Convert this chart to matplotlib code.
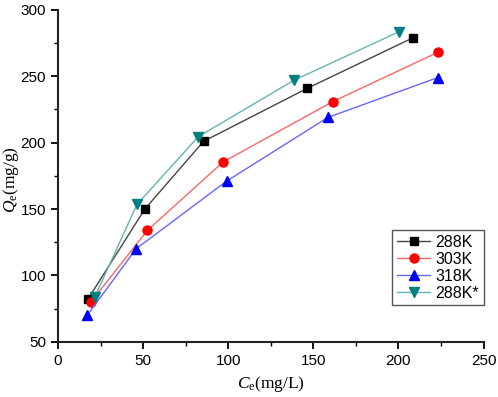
import matplotlib
matplotlib.use("Agg")
import matplotlib.pyplot as plt
from matplotlib.ticker import MultipleLocator

plt.rcParams["font.family"] = ["Liberation Sans", "DejaVu Sans"]
plt.rcParams["mathtext.fontset"] = "custom"
plt.rcParams["mathtext.rm"] = "Liberation Serif"
plt.rcParams["mathtext.it"] = "Liberation Serif:italic"

# equilibrium data
ce_288 = [17.5, 51, 85.5, 146.5, 208.5]
qe_288 = [82, 150, 201, 241, 279]
ce_303 = [19.3, 52.5, 97, 161.5, 223]
qe_303 = [80, 134, 185.5, 231, 268]
ce_318 = [17.2, 45.8, 99, 158.5, 223]
qe_318 = [70, 120, 171, 219, 249]
ce_288s = [21.5, 46.4, 82.4, 138.6, 200.2]
qe_288s = [83.5, 153.5, 204.5, 247, 283.5]

series = [
    ("288K", ce_288, qe_288, "s", "black", "#444444", 5.5),
    ("303K", ce_303, qe_303, "o", "red", "#ff6666", 6.5),
    ("318K", ce_318, qe_318, "^", "blue", "#6666ff", 6.5),
    ("288K*", ce_288s, qe_288s, "v", "#008080", "#66b3b3", 6.5),
]

fig = plt.figure(figsize=(4.98, 3.97), dpi=100)
ax = fig.add_axes([0.1165, 0.139, 0.8545, 0.836])

for name, x, y, mk, mc, lc, ms in series:
    ax.plot(x, y, color=lc, lw=1.0, marker=mk, ms=ms,
            markerfacecolor=mc, markeredgecolor=mc, label=name)

ax.set_xlim(0, 250)
ax.set_ylim(50, 300)
ax.xaxis.set_major_locator(MultipleLocator(50))
ax.xaxis.set_minor_locator(MultipleLocator(25))
ax.yaxis.set_major_locator(MultipleLocator(50))
ax.yaxis.set_minor_locator(MultipleLocator(25))
for s in ("top", "right"):
    ax.spines[s].set_visible(False)
for s in ("left", "bottom"):
    ax.spines[s].set_linewidth(1.5)
    ax.spines[s].set_color("#222222")
ax.tick_params(which="major", direction="out", length=5, width=1.3, labelsize=11)
ax.tick_params(which="minor", direction="out", length=3, width=1.0)

ax.set_xlabel(r"$\mathit{C}_\mathrm{e}$(mg/L)", fontsize=12.5, family="Liberation Serif")
ax.set_ylabel(r"$\mathit{Q}_\mathrm{e}$(mg/g)", fontsize=12.5, family="Liberation Serif")
ax.xaxis.set_label_coords(0.5, -0.097)
ax.yaxis.set_label_coords(-0.087, 0.49)

leg = ax.legend(loc="lower right", bbox_to_anchor=(1.0, 0.11), fontsize=11.5,
                fancybox=False, framealpha=1, edgecolor="#555555",
                handlelength=2.1, handletextpad=0.3, borderpad=0.3,
                labelspacing=0.12, borderaxespad=0)
leg.get_frame().set_linewidth(1.0)

fig.savefig("out.png", dpi=100)
